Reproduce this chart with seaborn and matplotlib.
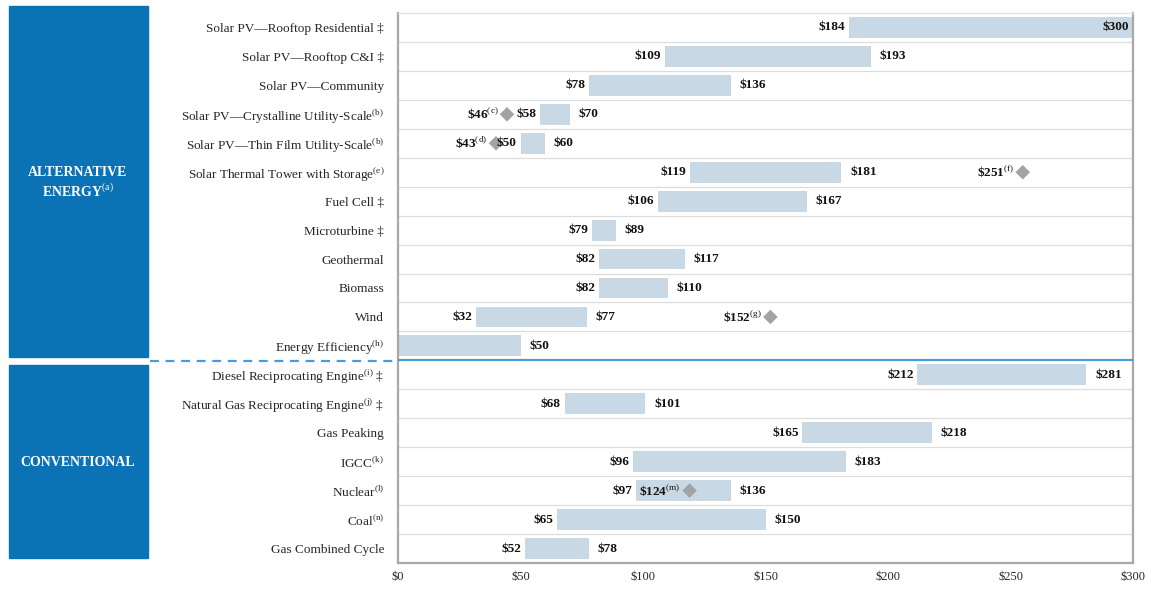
import numpy as np
import pandas as pd
import matplotlib.pyplot as plt
import seaborn as sns
from matplotlib.patches import Rectangle
from matplotlib.lines import Line2D

# Levelized cost of energy ranges ($/MWh)
categories = [
    "Solar PV\u2014Rooftop Residential \u2021",
    "Solar PV\u2014Rooftop C&I \u2021",
    "Solar PV\u2014Community",
    "Solar PV\u2014Crystalline Utility-Scale$^{\\mathrm{(b)}}$",
    "Solar PV\u2014Thin Film Utility-Scale$^{\\mathrm{(b)}}$",
    "Solar Thermal Tower with Storage$^{\\mathrm{(e)}}$",
    "Fuel Cell \u2021",
    "Microturbine \u2021",
    "Geothermal",
    "Biomass",
    "Wind",
    "Energy Efficiency$^{\\mathrm{(h)}}$",
    "Diesel Reciprocating Engine$^{\\mathrm{(i)}}$ \u2021",
    "Natural Gas Reciprocating Engine$^{\\mathrm{(j)}}$ \u2021",
    "Gas Peaking",
    "IGCC$^{\\mathrm{(k)}}$",
    "Nuclear$^{\\mathrm{(l)}}$",
    "Coal$^{\\mathrm{(n)}}$",
    "Gas Combined Cycle",
]
low = [184, 109, 78, 58, 50, 119, 106, 79, 82, 82, 32, 0, 212, 68, 165, 96, 97, 65, 52]
high = [300, 193, 136, 70, 60, 181, 167, 89, 117, 110, 77, 50, 281, 101, 218, 183, 136, 150, 78]

# diamond markers (row index, marker position, label)
marker_rows = [3, 4, 5, 10, 16]
marker_pos = [44.5, 40, 255, 152, 119]
marker_labels = ["\\$46$^{\\mathrm{(c)}}$", "\\$43$^{\\mathrm{(d)}}$", "\\$251$^{\\mathrm{(f)}}$",
                 "\\$152$^{\\mathrm{(g)}}$", "\\$124$^{\\mathrm{(m)}}$"]

xticks = [0, 50, 100, 150, 200, 250, 300]

BAR_COLOR = "#c9d8e5"
PANEL_BLUE = "#0a72b5"
LINE_BLUE = "#4b9bd5"
DIAMOND = "#a3a3a3"

sns.set_theme(style="white")
plt.rcParams['font.family'] = ['Liberation Serif', 'DejaVu Serif']
plt.rcParams['mathtext.fontset'] = 'custom'
plt.rcParams['mathtext.rm'] = 'Liberation Serif'
plt.rcParams['mathtext.bf'] = 'Liberation Serif:bold'

df = pd.DataFrame({"tech": range(len(categories)), "low": low, "high": high})
df["tech"] = df["tech"].astype(str)

fig = plt.figure(figsize=(11.51, 5.89), dpi=100)
ax = fig.add_axes([398 / 1151, 1 - 563 / 589, 735 / 1151, 550 / 589])

sns.barplot(data=df, x="high", y="tech", orient="h", color=BAR_COLOR,
            width=0.72, saturation=1, ax=ax)
# turn bars into floating ranges low..high
for patch, lo, hi in zip(ax.patches, low, high):
    patch.set_x(lo)
    patch.set_width(hi - lo)
    patch.set_edgecolor("none")

# diamonds
mk = pd.DataFrame({"x": marker_pos, "y": marker_rows})
sns.scatterplot(data=mk, x="x", y="y", marker="D", s=55, color=DIAMOND,
                edgecolor="none", ax=ax, zorder=4)

lab_kw = dict(fontsize=9.5, fontweight="bold", va="center", color="#111111")
for i, (lo, hi) in enumerate(zip(low, high)):
    if lo > 0:
        ax.text(lo - 1.5, i, "\\$%d" % lo, ha="right", zorder=5, **lab_kw)
    if hi >= 295:
        ax.text(hi - 1.5, i, "\\$%d" % hi, ha="right", zorder=5, **lab_kw)
    else:
        ax.text(hi + 3.5, i, "\\$%d" % hi, ha="left", zorder=5, **lab_kw)

for r, p, t in zip(marker_rows, marker_pos, marker_labels):
    ax.text(p - 3.5, r, t, ha="right", **lab_kw)

# axes styling
ax.set_xlim(0, 300)
ax.set_ylim(len(categories) - 0.5, -0.5)
ax.set_xticks(xticks)
ax.set_xticklabels(["\\$%d" % v for v in xticks], fontsize=9)
ax.set_yticks(range(len(categories)))
ax.set_yticklabels(categories, fontsize=9.5)
ax.set_xlabel("")
ax.set_ylabel("")
ax.tick_params(axis="y", length=0, pad=10)
ax.tick_params(axis="x", length=0, pad=6)
bounds = np.arange(0.5, len(categories) - 1, 1.0)
ax.set_yticks(bounds, minor=True)
ax.tick_params(axis="y", which="minor", length=4, color="#aaaaaa", direction="out")
for b in bounds:
    if b == 11.5:
        continue
    ax.axhline(b, color="#dcdcdc", lw=0.9, zorder=0)
ax.axhline(11.5, color=LINE_BLUE, lw=1.6, zorder=3)
for side in ["left", "right", "bottom", "top"]:
    ax.spines[side].set_color("#a8a8a8")
    ax.spines[side].set_linewidth(1.6)
ax.spines["top"].set_color("#e0e0e0")
ax.spines["top"].set_linewidth(0.8)

# left category panels
fig.patches.append(Rectangle((9 / 1151, 1 - 357 / 589), 139 / 1151, 351 / 589,
                             transform=fig.transFigure, color=PANEL_BLUE, zorder=0))
fig.patches.append(Rectangle((9 / 1151, 1 - 558 / 589), 139 / 1151, 193 / 589,
                             transform=fig.transFigure, color=PANEL_BLUE, zorder=0))
fig.text(78 / 1151, 1 - 183 / 589, "ALTERNATIVE\nENERGY$^{\\mathrm{(a)}}$", color="white",
         fontsize=10, fontweight="bold", ha="center", va="center", linespacing=1.3)
fig.text(78 / 1151, 1 - 462 / 589, "CONVENTIONAL", color="white",
         fontsize=10, fontweight="bold", ha="center", va="center")
fig.lines.append(Line2D([150 / 1151, 398 / 1151], [1 - 360.5 / 589, 1 - 360.5 / 589],
                        transform=fig.transFigure, color=LINE_BLUE, lw=1.6,
                        linestyle=(0, (4, 3))))

fig.savefig("out.png", dpi=100)
